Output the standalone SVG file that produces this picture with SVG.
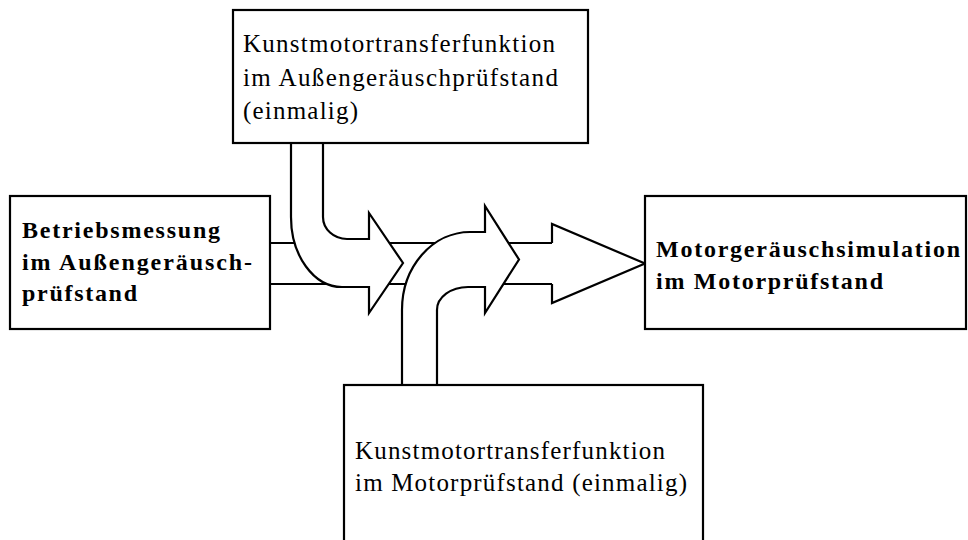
<svg xmlns="http://www.w3.org/2000/svg" width="968" height="540" viewBox="0 0 968 540">
<style>
.box{fill:#fff;stroke:#000;stroke-width:2.2}
.sh{fill:#fff;stroke:#000;stroke-width:2.2;stroke-linejoin:miter}
.ln{stroke:#000;stroke-width:2.2;fill:none}
.t{font-family:"Liberation Serif","Times New Roman",serif;font-size:25px;fill:#000}
.b{font-family:"Liberation Serif","Times New Roman",serif;font-size:24px;font-weight:bold;fill:#000}
</style>
<rect width="968" height="540" fill="#fff"/>
<g id="connectors">
<line class="ln" x1="270" y1="243" x2="553" y2="243"/>
<line class="ln" x1="270" y1="284" x2="553" y2="284"/>
<path class="sh" d="M552,243 L552,224 L645,263.5 L552,303 L552,284"/>
<path class="sh" d="M291,143 L291,217 A51,70 0 0 0 342,287 L369,287 L369,313 L403,263 L369,213 L369,239 L347,239 A24,22 0 0 1 323,217 L323,143"/>
<path class="sh" d="M402,385 L402,310 A68,78 0 0 1 470,232 L485,232 L485,206 L519,259.5 L485,313 L485,287 L468,287 A31,23 0 0 0 437,310 L437,385"/>
</g>
<g id="top">
<rect class="box" x="233" y="10" width="355" height="133"/>
<text class="t" x="243" y="52" textLength="312" lengthAdjust="spacing">Kunstmotortransferfunktion</text>
<text class="t" x="243" y="86" textLength="315" lengthAdjust="spacing">im Außengeräuschprüfstand</text>
<text class="t" x="243" y="119" textLength="115" lengthAdjust="spacing">(einmalig)</text>
</g>
<g id="left">
<rect class="box" x="10" y="196" width="260" height="133"/>
<text class="b" x="22" y="238" textLength="198" lengthAdjust="spacing">Betriebsmessung</text>
<text class="b" x="22" y="270" textLength="230" lengthAdjust="spacing">im Außengeräusch-</text>
<text class="b" x="22" y="301" textLength="115" lengthAdjust="spacing">prüfstand</text>
</g>
<g id="right">
<rect class="box" x="645" y="196" width="321" height="133"/>
<text class="b" x="656" y="257" textLength="304" lengthAdjust="spacing">Motorgeräuschsimulation</text>
<text class="b" x="656" y="289" textLength="227" lengthAdjust="spacing">im Motorprüfstand</text>
</g>
<g id="bottom">
<rect class="box" x="344" y="385" width="359" height="165"/>
<text class="t" x="355" y="459" textLength="310" lengthAdjust="spacing">Kunstmotortransferfunktion</text>
<text class="t" x="355" y="491" textLength="332" lengthAdjust="spacing">im Motorprüfstand (einmalig)</text>
</g>
</svg>
